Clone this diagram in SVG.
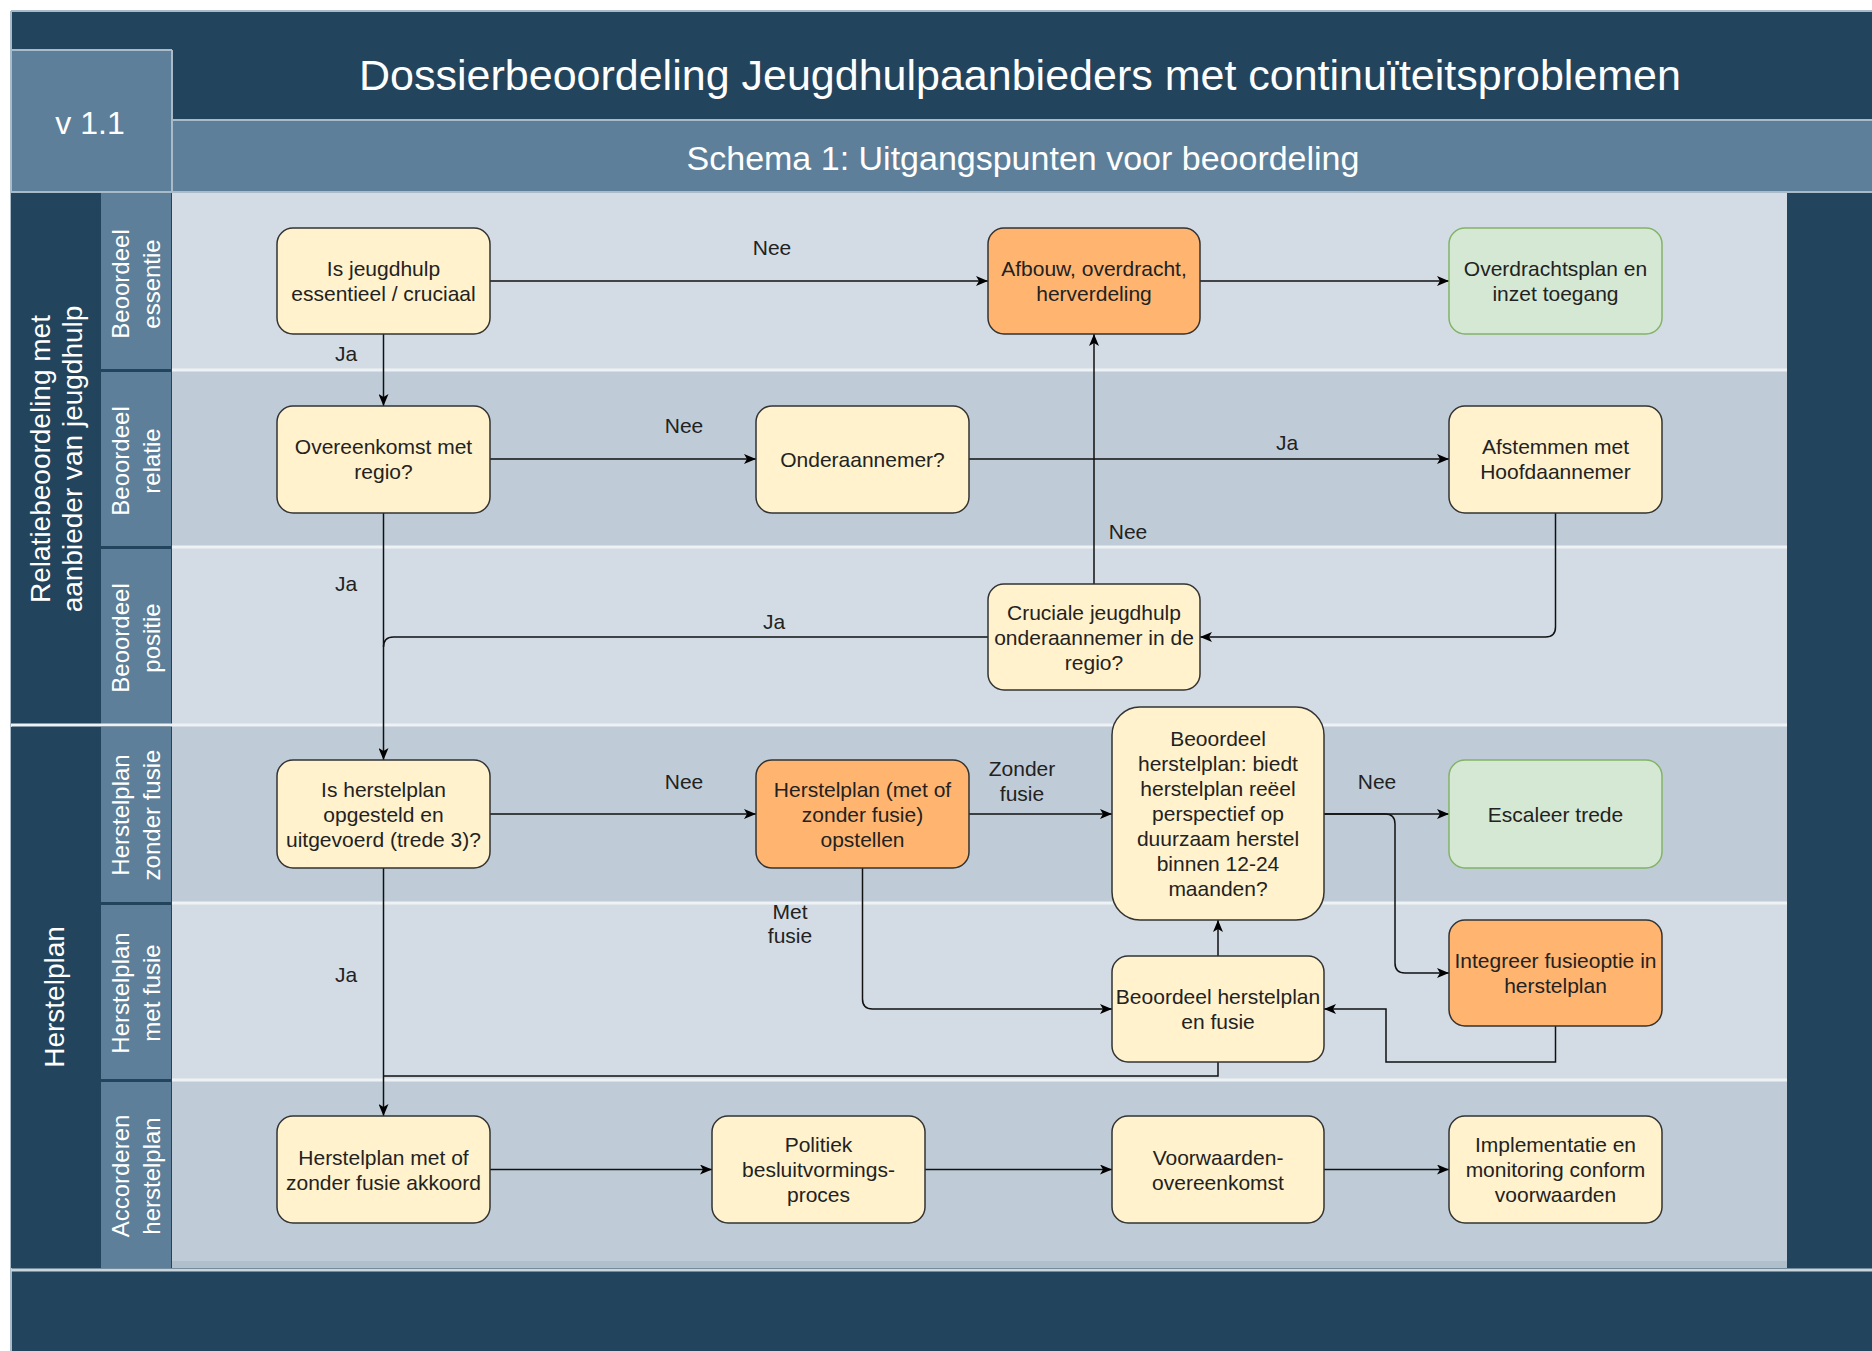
<svg xmlns="http://www.w3.org/2000/svg" width="1872" height="1351" viewBox="0 0 1872 1351">
<style>
.dark{fill:#23445d}
.mid{fill:#5d7f99}
.laneA{fill:#d3dce5}
.laneB{fill:#bfccd7}
.sep{stroke:#eef2f5;stroke-width:3}
.frame{stroke:#a9bac8;stroke-width:2;fill:none}
.node rect{stroke:#333;stroke-width:1.5}
.y rect{fill:#fff2cc}
.o rect{fill:#ffb570}
.g rect{fill:#d5e8d4;stroke:#82b366}
.node text{font-family:"Liberation Sans",Arial,sans-serif;font-size:21px;fill:#222;text-anchor:middle}
.lbl{font-family:"Liberation Sans",Arial,sans-serif;font-size:21px;fill:#222;text-anchor:middle}
.hdr{font-family:"Liberation Sans",Arial,sans-serif;fill:#fff;text-anchor:middle}
.edge{fill:none;stroke:#111;stroke-width:1.5;marker-end:url(#arr)}
.line{fill:none;stroke:#111;stroke-width:1.5}
</style>
<defs>
<marker id="arr" viewBox="0 0 12 10" refX="12" refY="5" markerWidth="12" markerHeight="10" markerUnits="userSpaceOnUse" orient="auto">
<path d="M0,0 L12,5 L0,10 L3,5 Z" fill="#000"/>
</marker>
</defs>
<rect width="1872" height="1351" fill="#ffffff"/>
<g id="frame">
<rect class="dark" x="11" y="11" width="1861" height="1340"/>
<rect class="mid" x="11" y="50" width="161" height="142"/>
<rect class="mid" x="172" y="121" width="1700" height="71"/>
<line class="frame" x1="11" y1="11" x2="1872" y2="11"/>
<line class="frame" x1="11" y1="11" x2="11" y2="1351"/>
<line class="frame" x1="11" y1="50" x2="172" y2="50"/>
<line class="frame" x1="172" y1="50" x2="172" y2="192"/>
<line class="frame" x1="172" y1="120" x2="1872" y2="120"/>
<line class="frame" x1="11" y1="192" x2="1872" y2="192"/>
<text class="hdr" x="90" y="134" font-size="32">v 1.1</text>
<text class="hdr" x="1020" y="90" font-size="43">Dossierbeoordeling Jeugdhulpaanbieders met continuïteitsproblemen</text>
<text class="hdr" x="1023" y="170" font-size="34">Schema 1: Uitgangspunten voor beoordeling</text>
</g>
<g id="lanes">
<rect class="laneA" x="172" y="193" width="1615" height="177"/>
<rect class="laneB" x="172" y="370" width="1615" height="177"/>
<rect class="laneA" x="172" y="547" width="1615" height="178"/>
<rect class="laneB" x="172" y="725" width="1615" height="178"/>
<rect class="laneA" x="172" y="903" width="1615" height="177"/>
<rect class="laneB" x="172" y="1080" width="1615" height="188"/>
<rect x="172" y="1261" width="1615" height="7" fill="#afbfcc"/>
<rect class="dark" x="11" y="193" width="86" height="531"/>
<rect class="dark" x="11" y="727" width="86" height="541"/>
<rect class="mid" x="101" y="193" width="70" height="176"/>
<rect class="mid" x="101" y="372" width="70" height="174"/>
<rect class="mid" x="101" y="549" width="70" height="175"/>
<rect class="mid" x="101" y="727" width="70" height="175"/>
<rect class="mid" x="101" y="905" width="70" height="174"/>
<rect class="mid" x="101" y="1082" width="70" height="186"/>
<line class="sep" x1="172" y1="370" x2="1787" y2="370"/>
<line class="sep" x1="172" y1="547" x2="1787" y2="547"/>
<line class="sep" x1="11" y1="725" x2="1787" y2="725"/>
<line class="sep" x1="172" y1="903" x2="1787" y2="903"/>
<line class="sep" x1="172" y1="1080" x2="1787" y2="1080"/>
<line x1="11" y1="1270" x2="1872" y2="1270" stroke="#c9d4dd" stroke-width="3"/>
<text class="hdr" font-size="28" transform="translate(54,459) rotate(-90)"><tspan x="0" y="-4">Relatiebeoordeling met</tspan><tspan x="0" y="28">aanbieder van jeugdhulp</tspan></text>
<text class="hdr" font-size="28" transform="translate(54,997) rotate(-90)"><tspan x="0" y="10">Herstelplan</tspan></text>
<text class="hdr" font-size="24" transform="translate(136,284) rotate(-90)"><tspan x="0" y="-7">Beoordeel</tspan><tspan x="0" y="24">essentie</tspan></text>
<text class="hdr" font-size="24" transform="translate(136,461) rotate(-90)"><tspan x="0" y="-7">Beoordeel</tspan><tspan x="0" y="24">relatie</tspan></text>
<text class="hdr" font-size="24" transform="translate(136,638) rotate(-90)"><tspan x="0" y="-7">Beoordeel</tspan><tspan x="0" y="24">positie</tspan></text>
<text class="hdr" font-size="24" transform="translate(136,815) rotate(-90)"><tspan x="0" y="-7">Herstelplan</tspan><tspan x="0" y="24">zonder fusie</tspan></text>
<text class="hdr" font-size="24" transform="translate(136,993) rotate(-90)"><tspan x="0" y="-7">Herstelplan</tspan><tspan x="0" y="24">met fusie</tspan></text>
<text class="hdr" font-size="24" transform="translate(136,1176) rotate(-90)"><tspan x="0" y="-7">Accorderen</tspan><tspan x="0" y="24">herstelplan</tspan></text>
</g>
<g id="connectors">
<path class="edge" d="M490,281 H988"/>
<path class="edge" d="M1200,281 H1449"/>
<path class="edge" d="M383.5,334 V406"/>
<path class="edge" d="M490,459 H756"/>
<path class="edge" d="M969,459 H1449"/>
<path class="edge" d="M1555.5,513 V627 Q1555.5,637 1545.5,637 H1200"/>
<path class="edge" d="M1094,584 V334"/>
<path class="line" d="M988,637 H393.5 Q383.5,637 383.5,647"/>
<path class="edge" d="M383.5,513 V760"/>
<path class="edge" d="M490,814 H756"/>
<path class="edge" d="M969,814 H1112"/>
<path class="edge" d="M862.5,868 V999 Q862.5,1009 872.5,1009 H1112"/>
<path class="edge" d="M1218,956 V920"/>
<path class="edge" d="M1324,814 H1449"/>
<path class="edge" d="M1324,814 H1385 Q1395,814 1395,824 V963 Q1395,973 1405,973 H1449"/>
<path class="edge" d="M1555.5,1026 V1062 H1386 V1009 H1324"/>
<path class="line" d="M1218,1062 V1076 H383.5"/>
<path class="edge" d="M383.5,868 V1116"/>
<path class="edge" d="M490,1169.5 H712"/>
<path class="edge" d="M925,1169.5 H1112"/>
<path class="edge" d="M1324,1169.5 H1449"/>
<text class="lbl" x="772" y="255">Nee</text>
<text class="lbl" x="346" y="361">Ja</text>
<text class="lbl" x="684" y="433">Nee</text>
<text class="lbl" x="1287" y="450">Ja</text>
<text class="lbl" x="1128" y="539">Nee</text>
<text class="lbl" x="774" y="629">Ja</text>
<text class="lbl" x="346" y="591">Ja</text>
<text class="lbl" x="684" y="789">Nee</text>
<text class="lbl" x="1022" y="776">Zonder</text>
<text class="lbl" x="1022" y="801">fusie</text>
<text class="lbl" x="790" y="919">Met</text>
<text class="lbl" x="790" y="943">fusie</text>
<text class="lbl" x="1377" y="789">Nee</text>
<text class="lbl" x="346" y="982">Ja</text>
</g>
<g id="n1" class="node y"><rect x="277" y="228" width="213" height="106" rx="16"/><text x="383.5" y="276">Is jeugdhulp</text><text x="383.5" y="301">essentieel / cruciaal</text></g>
<g id="n2" class="node o"><rect x="988" y="228" width="212" height="106" rx="16"/><text x="1094" y="276">Afbouw, overdracht,</text><text x="1094" y="301">herverdeling</text></g>
<g id="n3" class="node g"><rect x="1449" y="228" width="213" height="106" rx="16"/><text x="1555.5" y="276">Overdrachtsplan en</text><text x="1555.5" y="301">inzet toegang</text></g>
<g id="n4" class="node y"><rect x="277" y="406" width="213" height="107" rx="16"/><text x="383.5" y="454">Overeenkomst met</text><text x="383.5" y="479">regio?</text></g>
<g id="n5" class="node y"><rect x="756" y="406" width="213" height="107" rx="16"/><text x="862.5" y="467">Onderaannemer?</text></g>
<g id="n6" class="node y"><rect x="1449" y="406" width="213" height="107" rx="16"/><text x="1555.5" y="454">Afstemmen met</text><text x="1555.5" y="479">Hoofdaannemer</text></g>
<g id="n7" class="node y"><rect x="988" y="584" width="212" height="106" rx="16"/><text x="1094" y="620">Cruciale jeugdhulp</text><text x="1094" y="645">onderaannemer in de</text><text x="1094" y="670">regio?</text></g>
<g id="n8" class="node y"><rect x="277" y="760" width="213" height="108" rx="16"/><text x="383.5" y="797">Is herstelplan</text><text x="383.5" y="822">opgesteld en</text><text x="383.5" y="847">uitgevoerd (trede 3)?</text></g>
<g id="n9" class="node o"><rect x="756" y="760" width="213" height="108" rx="16"/><text x="862.5" y="797">Herstelplan (met of</text><text x="862.5" y="822">zonder fusie)</text><text x="862.5" y="847">opstellen</text></g>
<g id="n10" class="node y"><rect x="1112" y="707" width="212" height="213" rx="28"/><text x="1218" y="746">Beoordeel</text><text x="1218" y="771">herstelplan: biedt</text><text x="1218" y="796">herstelplan reëel</text><text x="1218" y="821">perspectief op</text><text x="1218" y="846">duurzaam herstel</text><text x="1218" y="871">binnen 12-24</text><text x="1218" y="896">maanden?</text></g>
<g id="n11" class="node g"><rect x="1449" y="760" width="213" height="108" rx="16"/><text x="1555.5" y="822">Escaleer trede</text></g>
<g id="n12" class="node o"><rect x="1449" y="920" width="213" height="106" rx="16"/><text x="1555.5" y="968">Integreer fusieoptie in</text><text x="1555.5" y="993">herstelplan</text></g>
<g id="n13" class="node y"><rect x="1112" y="956" width="212" height="106" rx="16"/><text x="1218" y="1004">Beoordeel herstelplan</text><text x="1218" y="1029">en fusie</text></g>
<g id="n14" class="node y"><rect x="277" y="1116" width="213" height="107" rx="16"/><text x="383.5" y="1165">Herstelplan met of</text><text x="383.5" y="1190">zonder fusie akkoord</text></g>
<g id="n15" class="node y"><rect x="712" y="1116" width="213" height="107" rx="16"/><text x="818.5" y="1152">Politiek</text><text x="818.5" y="1177">besluitvormings-</text><text x="818.5" y="1202">proces</text></g>
<g id="n16" class="node y"><rect x="1112" y="1116" width="212" height="107" rx="16"/><text x="1218" y="1165">Voorwaarden-</text><text x="1218" y="1190">overeenkomst</text></g>
<g id="n17" class="node y"><rect x="1449" y="1116" width="213" height="107" rx="16"/><text x="1555.5" y="1152">Implementatie en</text><text x="1555.5" y="1177">monitoring conform</text><text x="1555.5" y="1202">voorwaarden</text></g>
</svg>
